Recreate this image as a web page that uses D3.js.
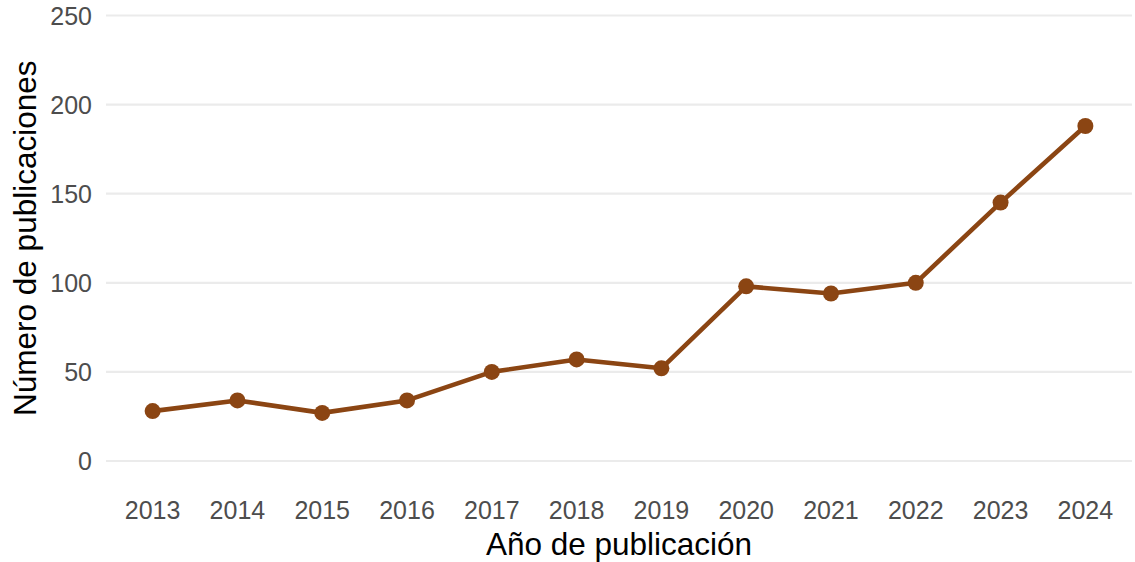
<!DOCTYPE html>
<html lang="es">
<head>
    <meta charset="UTF-8">
    <title>Número de publicaciones por año</title>
    <script src="https://d3js.org/d3.v7.min.js"></script>
    <style>
        body { margin: 0; background: #fff; }
        text { font-family: "Liberation Sans", Arial, sans-serif; }
        .grid line { stroke: #ebebeb; stroke-width: 2.2; }
        .tick-label { fill: #4d4d4d; font-size: 25px; }
        .axis-title { fill: #000; font-size: 31.5px; }
    </style>
</head>
<body>
    <svg id="chart" width="1135" height="562"></svg>

    <script>
        // data
        const years = [2013, 2014, 2015, 2016, 2017, 2018, 2019, 2020, 2021, 2022, 2023, 2024];
        const publications = [28, 34, 27, 34, 50, 57, 52, 98, 94, 100, 145, 188];
        const yTicks = [0, 50, 100, 150, 200, 250];

        const svg = d3.select('#chart');

        // panel area
        const panel = { left: 106, right: 1132, top: 15.5, bottom: 461 };

        const x = d3.scaleLinear()
            .domain([2012.45, 2024.55])
            .range([panel.left, panel.right]);

        const y = d3.scaleLinear()
            .domain([0, 250])
            .range([panel.bottom, panel.top]);

        // horizontal gridlines
        svg.append('g')
            .attr('class', 'grid')
            .selectAll('line')
            .data(yTicks)
            .join('line')
            .attr('x1', panel.left)
            .attr('x2', panel.right)
            .attr('y1', d => y(d))
            .attr('y2', d => y(d));

        // y tick labels
        svg.append('g')
            .selectAll('text')
            .data(yTicks)
            .join('text')
            .attr('class', 'tick-label')
            .attr('x', 92)
            .attr('y', d => y(d) + 9)
            .attr('text-anchor', 'end')
            .text(d => d);

        // x tick labels
        svg.append('g')
            .selectAll('text')
            .data(years)
            .join('text')
            .attr('class', 'tick-label')
            .attr('x', d => x(d))
            .attr('y', 518.5)
            .attr('text-anchor', 'middle')
            .text(d => d);

        // line + points
        const pts = years.map((yr, i) => ({ year: yr, n: publications[i] }));

        svg.append('path')
            .datum(pts)
            .attr('fill', 'none')
            .attr('stroke', '#8b4513')
            .attr('stroke-width', 4.6)
            .attr('stroke-linejoin', 'round')
            .attr('d', d3.line().x(d => x(d.year)).y(d => y(d.n)));

        svg.append('g')
            .selectAll('circle')
            .data(pts)
            .join('circle')
            .attr('cx', d => x(d.year))
            .attr('cy', d => y(d.n))
            .attr('r', 8)
            .attr('fill', '#8b4513');

        // axis titles
        svg.append('text')
            .attr('class', 'axis-title')
            .attr('x', (panel.left + panel.right) / 2)
            .attr('y', 555)
            .attr('text-anchor', 'middle')
            .text('Año de publicación');

        svg.append('text')
            .attr('class', 'axis-title')
            .attr('transform', 'translate(36,' + ((panel.top + panel.bottom) / 2) + ') rotate(-90)')
            .attr('text-anchor', 'middle')
            .text('Número de publicaciones');
    </script>
</body>
</html>
